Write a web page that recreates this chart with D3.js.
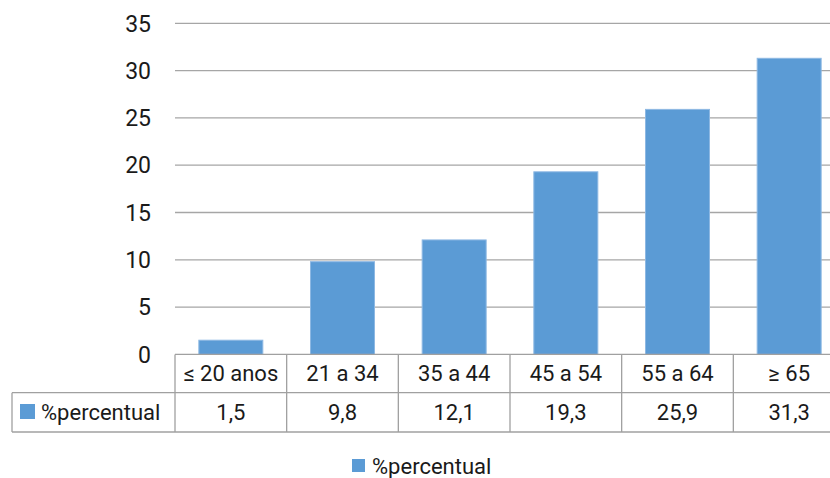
<!DOCTYPE html>
<html><head><meta charset="utf-8">
<script src="https://cdn.jsdelivr.net/npm/d3@7"></script>
<style>body{margin:0;background:#fff}svg{display:block}text{font-family:Roboto,sans-serif;fill:#1a1a1a}</style>
</head><body><svg id="c" width="830" height="478"></svg>
<script>
const categories = ["≤ 20 anos","21 a 34","35 a 44","45 a 54","55 a 64","≥ 65"];
const values = [1.5, 9.8, 12.1, 19.3, 25.9, 31.3];
const valueLabels = ["1,5","9,8","12,1","19,3","25,9","31,3"];
const yTicks = [0,5,10,15,20,25,30,35];
const seriesName = "%percentual";

(function(){
const svg = d3.select("#c");
const pLeft = 175, pRight = 845, pTop = 23.3, pBottom = 354.4;
const x = d3.scaleBand().domain(categories).range([pLeft, pRight]).paddingInner(0.427).paddingOuter(0.2135);
const xc = d3.scaleBand().domain(categories).range([pLeft, pRight]);
const y = d3.scaleLinear().domain([0,35]).range([pBottom, pTop]);
const color = "#5B9BD5";

svg.append("g").selectAll("line").data(yTicks.filter(d=>d>0)).join("line")
  .attr("x1", pLeft).attr("x2", 830).attr("y1", d=>y(d)).attr("y2", d=>y(d))
  .attr("stroke", "#A6A6A6").attr("stroke-width", 1.3);
svg.append("g").selectAll("text").data(yTicks).join("text")
  .attr("x", 151).attr("y", d=>y(d)).attr("text-anchor","end").attr("dy","0.36em")
  .attr("font-size", 23).text(d=>d);
svg.append("g").selectAll("rect").data(values).join("rect")
  .attr("x", (d,i)=>x(categories[i])).attr("width", x.bandwidth())
  .attr("y", d=>y(d)).attr("height", d=>y(0)-y(d))
  .attr("fill", color).attr("stroke", "#8DB8E3").attr("stroke-width", 1);

const r0 = 354.4, r1 = 392.7, r2 = 432, tl = 12;
const g = svg.append("g").attr("stroke", "#A0A0A0").attr("stroke-width", 1.3);
g.append("line").attr("x1", pLeft).attr("x2", 830).attr("y1", r0).attr("y2", r0);
g.append("line").attr("x1", tl).attr("x2", 830).attr("y1", r1).attr("y2", r1);
g.append("line").attr("x1", tl).attr("x2", 830).attr("y1", r2).attr("y2", r2);
g.append("line").attr("x1", tl).attr("x2", tl).attr("y1", r1).attr("y2", r2);
g.selectAll("line.v").data(categories).join("line").attr("class","v")
  .attr("x1", d=>xc(d)).attr("x2", d=>xc(d)).attr("y1", r0).attr("y2", r2);

svg.append("g").selectAll("text").data(categories).join("text")
  .attr("x", d=>xc(d)+xc.bandwidth()/2).attr("y", (r0+r1)/2).attr("dy","0.36em")
  .attr("text-anchor","middle").attr("font-size", 22).text(d=>d);
svg.append("g").selectAll("text").data(valueLabels).join("text")
  .attr("x", (d,i)=>xc(categories[i])+xc.bandwidth()/2).attr("y", (r1+r2)/2).attr("dy","0.36em")
  .attr("text-anchor","middle").attr("font-size", 22).text(d=>d);
svg.append("rect").attr("x", 20).attr("y", 404).attr("width", 15).attr("height", 15).attr("fill", color);
svg.append("text").attr("x", 41).attr("y", (r1+r2)/2).attr("dy","0.36em").attr("font-size", 22).text(seriesName);

svg.append("rect").attr("x", 352).attr("y", 459).attr("width", 13).attr("height", 13).attr("fill", color);
svg.append("text").attr("x", 372).attr("y", 466).attr("dy","0.36em").attr("font-size", 22).text(seriesName);
})();
</script></body></html>
